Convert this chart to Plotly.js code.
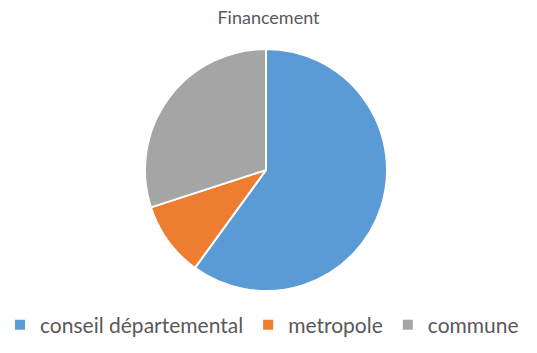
<!DOCTYPE html>
<html>
<head>
<meta charset="utf-8">
<script src="https://cdn.plot.ly/plotly-3.0.1.min.js"></script>
<style>html,body{margin:0;padding:0;background:#fff;}#chart{width:537px;height:353px;}</style>
</head>
<body>
<div id="chart"></div>
<script>
const labels = ["conseil départemental", "metropole", "commune"];
const values = [60, 10, 30];
const colors = ["#5B9BD5", "#ED7D31", "#A5A5A5"];

const trace = {
  type: "pie",
  labels: labels,
  values: values,
  sort: false,
  direction: "clockwise",
  rotation: 0,
  textinfo: "none",
  hoverinfo: "label+percent",
  marker: {colors: colors, line: {color: "#ffffff", width: 2}},
  domain: {x: [145/537, 387/537], y: [(353-291)/353, (353-49)/353]}
};

const layout = {
  width: 537, height: 353,
  margin: {l: 0, r: 0, t: 0, b: 0, autoexpand: false},
  paper_bgcolor: "#ffffff",
  font: {family: "Lato, Liberation Sans, Arial, sans-serif", color: "#595959"},
  title: {text: "Financement", x: 0.5, xanchor: "center", y: 1 - 18/353, yanchor: "middle", font: {size: 18, color: "#595959"}},
  showlegend: true,
  legend: {orientation: "h", x: 0, xanchor: "left", y: (353-325)/353, yanchor: "middle", font: {size: 21, color: "#595959"}, itemsizing: "constant", traceorder: "normal", borderwidth: 0, tracegroupgap: 0}
};

Plotly.newPlot("chart", [trace], layout, {displayModeBar: false, staticPlot: true});
</script>
</body>
</html>
